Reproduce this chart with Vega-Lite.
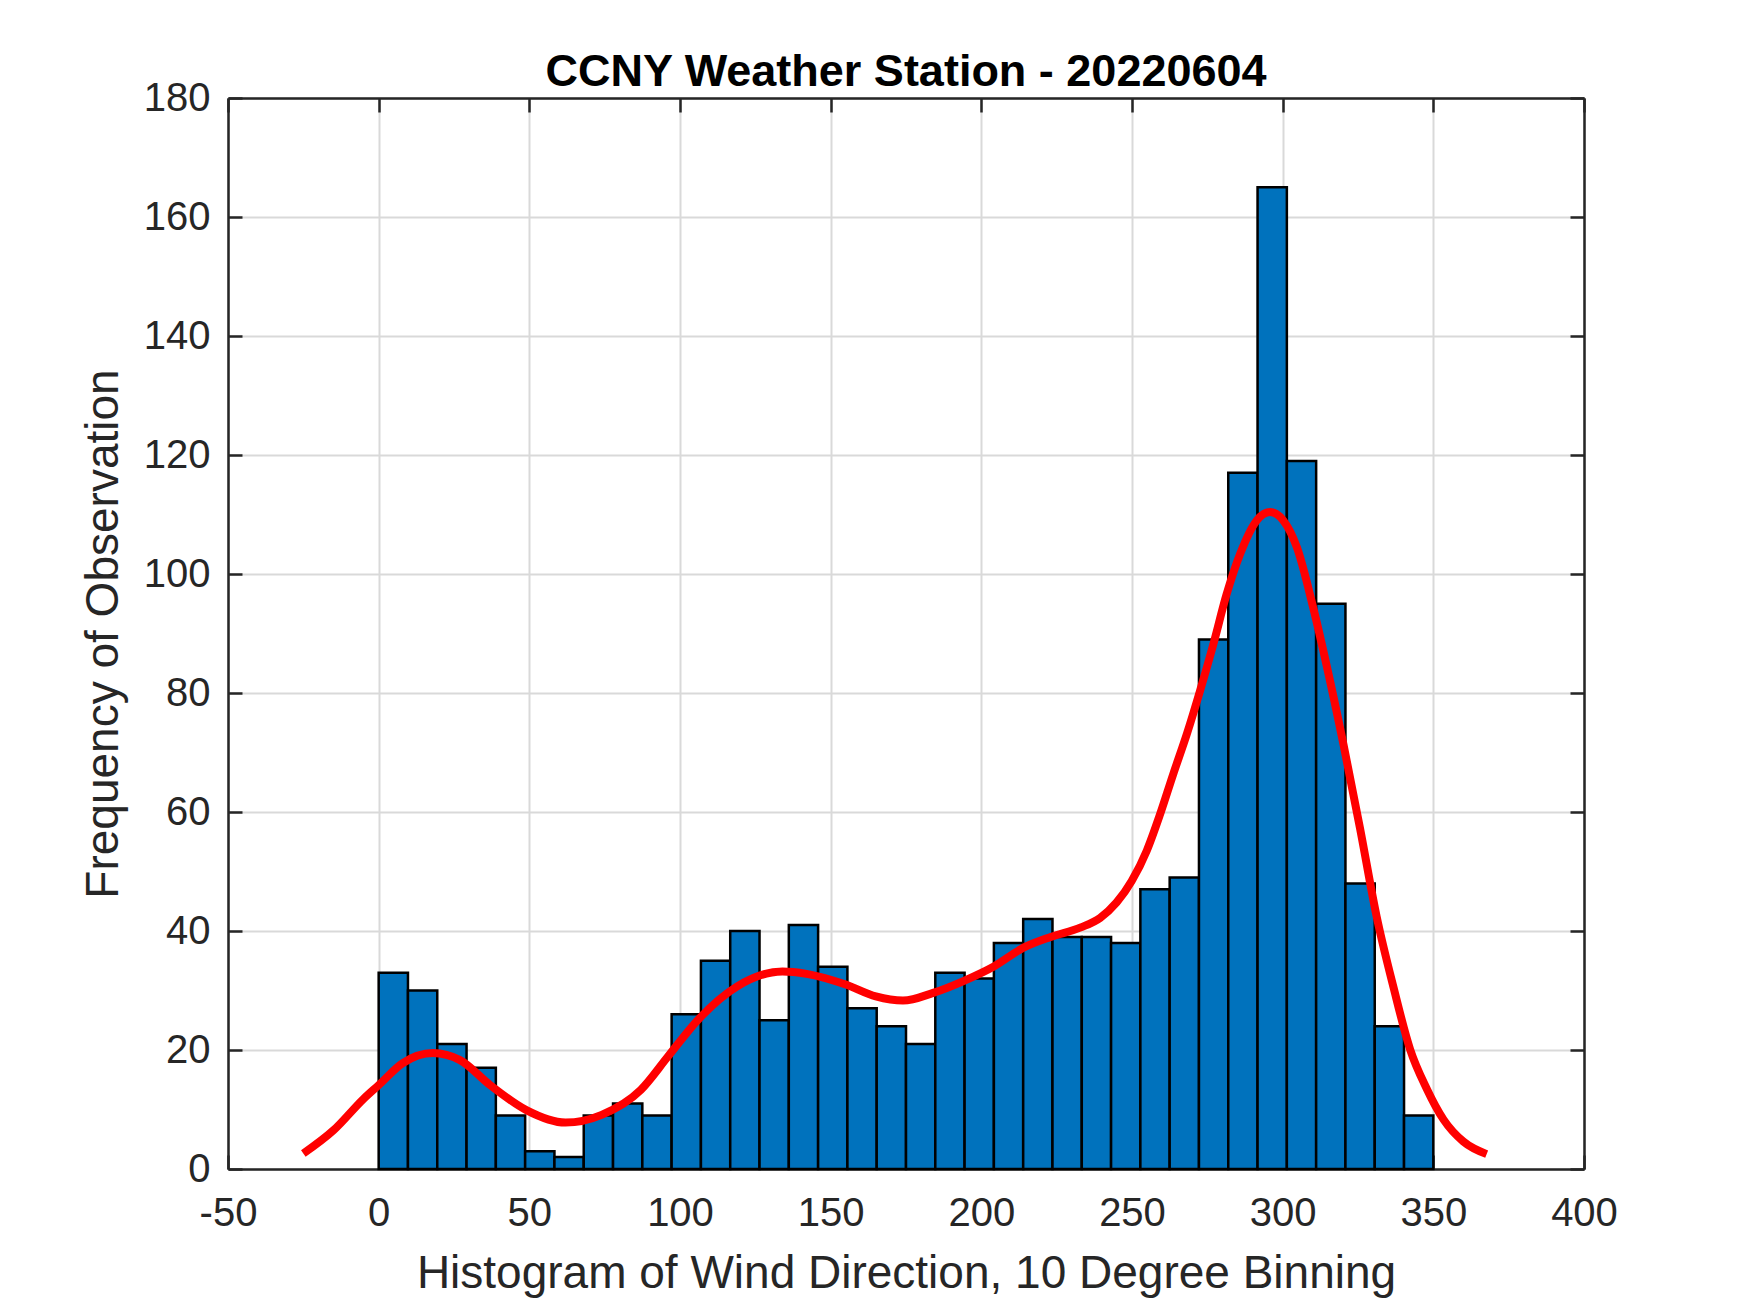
{
  "$schema": "https://vega.github.io/schema/vega-lite/v6.json",
  "width": 1356,
  "height": 1071,
  "autosize": {"type": "none"},
  "padding": {"left": 228, "top": 98, "right": 166, "bottom": 144},
  "background": "white",
  "config": {
    "font": "Liberation Sans",
    "view": {"stroke": null},
    "axis": {"labelFont": "Liberation Sans", "titleFont": "Liberation Sans", "labelColor": "#262626", "titleColor": "#262626", "domainColor": "#262626", "tickColor": "#262626", "domainWidth": 2.5, "tickWidth": 2.5, "gridColor": "#d9d9d9", "gridWidth": 2}
  },
  "title": {"text": "CCNY Weather Station - 20220604", "fontSize": 45, "fontWeight": "bold", "color": "#000000", "font": "Liberation Sans", "baseline": "alphabetic", "offset": -53, "anchor": "middle"},
  "datasets": {
    "bins": [
      {"bin_start": 0.0, "bin_end": 9.722, "count": 33},
      {"bin_start": 9.722, "bin_end": 19.444, "count": 30},
      {"bin_start": 19.444, "bin_end": 29.167, "count": 21},
      {"bin_start": 29.167, "bin_end": 38.889, "count": 17},
      {"bin_start": 38.889, "bin_end": 48.611, "count": 9},
      {"bin_start": 48.611, "bin_end": 58.333, "count": 3},
      {"bin_start": 58.333, "bin_end": 68.056, "count": 2},
      {"bin_start": 68.056, "bin_end": 77.778, "count": 9},
      {"bin_start": 77.778, "bin_end": 87.5, "count": 11},
      {"bin_start": 87.5, "bin_end": 97.222, "count": 9},
      {"bin_start": 97.222, "bin_end": 106.944, "count": 26},
      {"bin_start": 106.944, "bin_end": 116.667, "count": 35},
      {"bin_start": 116.667, "bin_end": 126.389, "count": 40},
      {"bin_start": 126.389, "bin_end": 136.111, "count": 25},
      {"bin_start": 136.111, "bin_end": 145.833, "count": 41},
      {"bin_start": 145.833, "bin_end": 155.556, "count": 34},
      {"bin_start": 155.556, "bin_end": 165.278, "count": 27},
      {"bin_start": 165.278, "bin_end": 175.0, "count": 24},
      {"bin_start": 175.0, "bin_end": 184.722, "count": 21},
      {"bin_start": 184.722, "bin_end": 194.444, "count": 33},
      {"bin_start": 194.444, "bin_end": 204.167, "count": 32},
      {"bin_start": 204.167, "bin_end": 213.889, "count": 38},
      {"bin_start": 213.889, "bin_end": 223.611, "count": 42},
      {"bin_start": 223.611, "bin_end": 233.333, "count": 39},
      {"bin_start": 233.333, "bin_end": 243.056, "count": 39},
      {"bin_start": 243.056, "bin_end": 252.778, "count": 38},
      {"bin_start": 252.778, "bin_end": 262.5, "count": 47},
      {"bin_start": 262.5, "bin_end": 272.222, "count": 49},
      {"bin_start": 272.222, "bin_end": 281.944, "count": 89},
      {"bin_start": 281.944, "bin_end": 291.667, "count": 117},
      {"bin_start": 291.667, "bin_end": 301.389, "count": 165},
      {"bin_start": 301.389, "bin_end": 311.111, "count": 119},
      {"bin_start": 311.111, "bin_end": 320.833, "count": 95},
      {"bin_start": 320.833, "bin_end": 330.556, "count": 48},
      {"bin_start": 330.556, "bin_end": 340.278, "count": 24},
      {"bin_start": 340.278, "bin_end": 350.0, "count": 9}
    ],
    "fit": [
      {"direction": -25, "density": 2.6},
      {"direction": -15, "density": 6.5},
      {"direction": -5, "density": 11.8},
      {"direction": 0, "density": 14.1},
      {"direction": 8, "density": 17.8},
      {"direction": 18, "density": 19.5},
      {"direction": 27, "density": 18.3},
      {"direction": 37, "density": 14.1},
      {"direction": 49, "density": 9.9},
      {"direction": 62, "density": 7.8},
      {"direction": 74, "density": 9.1},
      {"direction": 87, "density": 13.3},
      {"direction": 96, "density": 18.9},
      {"direction": 106, "density": 25.1},
      {"direction": 119, "density": 30.7},
      {"direction": 134, "density": 33.2},
      {"direction": 142, "density": 32.8},
      {"direction": 155, "density": 31.0},
      {"direction": 165, "density": 29.0},
      {"direction": 174, "density": 28.3},
      {"direction": 184, "density": 29.6},
      {"direction": 195, "density": 31.8},
      {"direction": 204, "density": 34.0},
      {"direction": 214, "density": 37.2},
      {"direction": 223, "density": 39.0},
      {"direction": 233, "density": 40.6},
      {"direction": 239.4, "density": 42.2},
      {"direction": 244.9, "density": 44.8},
      {"direction": 249.9, "density": 48.4},
      {"direction": 254.9, "density": 53.5},
      {"direction": 259.3, "density": 59.6},
      {"direction": 263.7, "density": 66.4},
      {"direction": 268.2, "density": 73.1},
      {"direction": 272.6, "density": 80.4},
      {"direction": 277.0, "density": 88.2},
      {"direction": 281.4, "density": 96.6},
      {"direction": 285.9, "density": 103.4},
      {"direction": 291.4, "density": 109.0},
      {"direction": 295.8, "density": 110.4},
      {"direction": 300.2, "density": 109.0},
      {"direction": 304.7, "density": 104.5},
      {"direction": 310.2, "density": 94.2},
      {"direction": 314.6, "density": 84.6},
      {"direction": 320.2, "density": 71.3},
      {"direction": 325.7, "density": 57.2},
      {"direction": 331.2, "density": 42.4},
      {"direction": 336.8, "density": 30.5},
      {"direction": 342.3, "density": 20.1},
      {"direction": 347.8, "density": 13.5},
      {"direction": 353.4, "density": 8.3},
      {"direction": 360.0, "density": 4.6},
      {"direction": 367.7, "density": 2.5}
    ]
  },
  "layer": [
    {
      "data": {"name": "bins"},
      "mark": {"type": "bar", "fill": "#0072BD", "stroke": "#000000", "strokeWidth": 2.5},
      "encoding": {
        "x": {"field": "bin_start", "type": "quantitative",
          "scale": {"domain": [-50, 400], "nice": false, "zero": false},
          "axis": {"orient": "bottom", "values": [-50, 0, 50, 100, 150, 200, 250, 300, 350, 400], "labelExpr": "'' + datum.value", "labelFontSize": 40, "labelPadding": 38, "tickSize": -14, "grid": true, "title": "Histogram of Wind Direction, 10 Degree Binning", "titleFontSize": 46, "titleFontWeight": "normal", "titlePadding": 18, "labelFlush": false, "labelOverlap": false}},
        "x2": {"field": "bin_end"},
        "y": {"field": "count", "type": "quantitative",
          "scale": {"domain": [0, 180], "nice": false},
          "axis": {"orient": "left", "values": [0, 20, 40, 60, 80, 100, 120, 140, 160, 180], "labelFontSize": 40, "labelPadding": 32, "tickSize": -14, "grid": true, "title": "Frequency of Observation", "titleFontSize": 46, "titleFontWeight": "normal", "titlePadding": 16, "labelFlush": false, "labelOverlap": false}},
        "y2": {"datum": 0}
      }
    },
    {
      "data": {"name": "fit"},
      "mark": {"type": "line", "color": "#FF0000", "strokeWidth": 8, "interpolate": "monotone", "strokeCap": "butt"},
      "encoding": {
        "x": {"field": "direction", "type": "quantitative",
          "axis": {"orient": "top", "values": [-50, 0, 50, 100, 150, 200, 250, 300, 350, 400], "labels": false, "tickSize": -14, "grid": false, "title": null}},
        "y": {"field": "density", "type": "quantitative",
          "axis": {"orient": "right", "values": [0, 20, 40, 60, 80, 100, 120, 140, 160, 180], "labels": false, "tickSize": -14, "grid": false, "title": null}}
      }
    }
  ],
  "resolve": {"axis": {"x": "independent", "y": "independent"}}
}
